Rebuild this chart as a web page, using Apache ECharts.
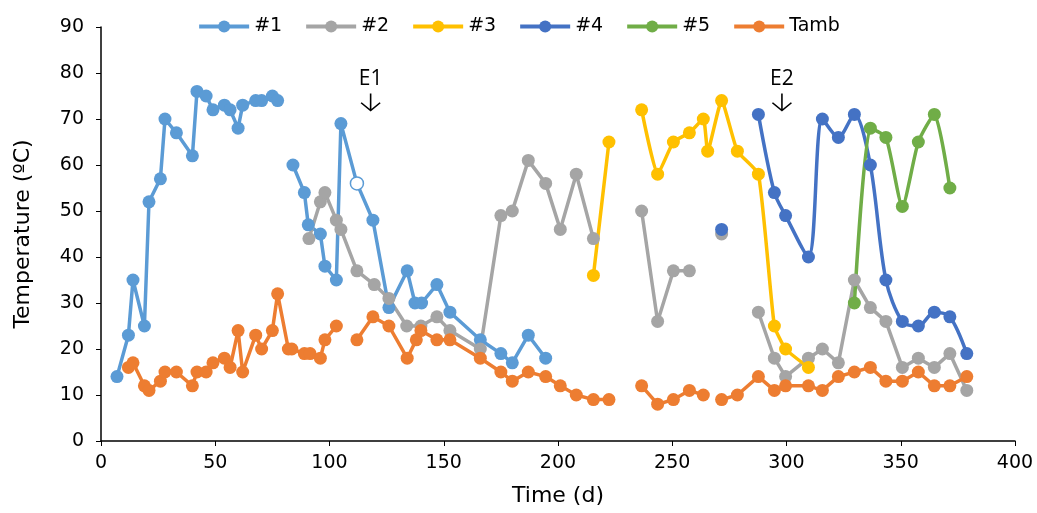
<!DOCTYPE html>
<html>
<head>
<meta charset="utf-8">
<script src="https://cdn.jsdelivr.net/npm/echarts@6/dist/echarts.min.js"></script>
<style>
  html, body { margin: 0; padding: 0; background: #fff; }
  #chart { width: 1037px; height: 513px; }
</style>
</head>
<body>
<div id="chart"></div>
<script>
// time (d) and temperature (ºC); null = break in the line
const s1Time = [7, 12, 14, 19, 21, 26, 28, 33, 40, 42, 46, 49, 54, 56.5, 60, 62, 67.7, 70.3, 75, 77.3, 80,
  84, 89, 90.7, 96, 98, 103, 105, 112, 119, 126, 134, 137.4, 140.3, 147, 152.7, 166, 175, 180, 187, 194.6]
const s1Temp = [14, 23, 35, 25, 52, 57, 70, 67, 62, 76, 75, 72, 73, 72, 68, 73, 74, 74, 75, 74, null,
  60, 54, 47, 45, 38, 35, 69, 56, 48, 29, 37, 30, 30, 34, 28, 22, 19, 17, 23, 18]
const s1Hollow = 112

const s2Time = [91, 96, 98, 103, 105, 112, 119.6, 126, 133.8, 140, 147, 152.7, 166, 175, 180, 187, 194.6, 201, 208, 215.5, 226,
  236.6, 243.6, 250.5, 257.5, 264, 271.6, 280, 287.7, 294.7, 299.6, 309.6, 315.7, 322.7, 329.7, 336.7, 343.5, 350.7, 357.7, 364.7, 371.5, 378.9]
const s2Temp = [44, 52, 54, 48, 46, 37, 34, 31, 25, 25, 27, 24, 20, 49, 50, 61, 56, 46, 58, 44, null,
  50, 26, 37, 37, null, 45, null, 28, 18, 14, 18, 20, 17, 35, 29, 26, 16, 18, 16, 19, 11]

const s3Time = [215.5, 222.3, 230, 236.6, 243.6, 250.5, 257.5, 263.6, 265.5, 271.6, 278.5, 287.7, 294.7, 299.6, 309.6]
const s3Temp = [36, 65, null, 72, 58, 65, 67, 70, 63, 74, 63, 58, 25, 20, 16]

const s4Time = [271.6, 280, 287.7, 294.7, 299.6, 309.6, 315.7, 322.7, 329.7, 336.7, 343.5, 350.7, 357.7, 364.7, 371.5, 378.9]
const s4Temp = [46, null, 71, 54, 49, 40, 70, 66, 71, 60, 35, 26, 25, 28, 27, 19]

const s5Time = [329.7, 336.7, 343.5, 350.7, 357.7, 364.7, 371.5]
const s5Temp = [30, 68, 66, 51, 65, 71, 55]

const tambTime = [12, 14, 19, 21, 26, 28, 33, 40, 42, 46, 49, 54, 56.5, 60, 62, 67.7, 70.3, 75, 77.3, 82, 83.5, 89, 91.5, 96, 98, 103, 108,
  112, 119, 126, 134, 138, 140, 147, 152.7, 166, 175, 180, 187, 194.6, 201, 208, 215.5, 222.3, 230,
  236.6, 243.6, 250.5, 257.5, 263.6, 268, 271.6, 278.5, 287.7, 294.7, 299.6, 309.6, 315.7, 322.7, 329.7, 336.7, 343.5, 350.7, 357.7, 364.7, 371.5, 378.9]
const tambTemp = [16, 17, 12, 11, 13, 15, 15, 12, 15, 15, 17, 18, 16, 24, 15, 23, 20, 24, 32, 20, 20, 19, 19, 18, 22, 25, null,
  22, 27, 25, 18, 22, 24, 22, 22, 18, 15, 13, 15, 14, 12, 10, 9, 9, null,
  12, 8, 9, 11, 10, null, 9, 10, 14, 11, 12, 12, 11, 14, 15, 16, 13, 13, 15, 12, 12, 14]

const seriesNames = ['#1', '#2', '#3', '#4', '#5', 'Tamb']
const seriesColors = ['#5B9BD5', '#A5A5A5', '#FFC000', '#4472C4', '#70AD47', '#ED7D31']
const seriesSmooth = [false, false, 0.15, 0.3, 0.2, false]

// event arrows
const annotTime = [118, 298]
const annotTemp = [73.7, 73.7]
const annotText = ['E1', 'E2']

const pairs = (ts, vs) => ts.map((t, i) => [t, vs[i] == null ? '-' : vs[i]])

const s1Data = pairs(s1Time, s1Temp).map(p => p[0] === s1Hollow
  ? { value: p, itemStyle: { color: '#fff', borderColor: '#5B9BD5', borderWidth: 1.5 } }
  : p)

const allData = [s1Data, pairs(s2Time, s2Temp), pairs(s3Time, s3Temp),
  pairs(s4Time, s4Temp), pairs(s5Time, s5Temp), pairs(tambTime, tambTemp)]

const font = 'DejaVu Sans, sans-serif'

const series = seriesNames.map((name, i) => ({
  name,
  type: 'line',
  data: allData[i],
  smooth: seriesSmooth[i],
  connectNulls: false,
  symbol: 'circle',
  symbolSize: 13,
  showAllSymbol: true,
  color: seriesColors[i],
  lineStyle: { width: 3.5 },
  itemStyle: { color: seriesColors[i] },
  emphasis: { disabled: true },
  animation: false
}))

series.push({
  type: 'scatter',
  silent: true,
  symbol: 'path://M10,0 L10,20 M1,11 L10,20 L19,11',
  symbolSize: [19, 17],
  itemStyle: { color: 'rgba(0,0,0,0)', borderColor: '#000', borderWidth: 1.5, opacity: 1 },
  data: annotTime.map((t, i) => ({ value: [t, annotTemp[i]], name: annotText[i] })),
  label: {
    show: true,
    position: 'top',
    distance: 3,
    formatter: p => p.name,
    fontFamily: 'Open Sans, DejaVu Sans, sans-serif',
    fontSize: 21,
    color: '#000',
    opacity: 1
  },
  emphasis: { disabled: true },
  animation: false
})

const chart = echarts.init(document.getElementById('chart'))
chart.setOption({
  backgroundColor: '#fff',
  textStyle: { fontFamily: font },
  legend: {
    data: seriesNames,
    top: 12,
    left: 'center',
    itemWidth: 50,
    itemHeight: 15,
    itemGap: 22,
    lineStyle: { width: 4 },
    textStyle: { fontSize: 19, color: '#000', fontFamily: font }
  },
  grid: { left: 101, right: 22, top: 27, bottom: 72 },
  xAxis: {
    type: 'value',
    min: 0, max: 400, interval: 50,
    name: 'Time (d)',
    nameLocation: 'middle',
    nameGap: 44,
    nameTextStyle: { fontSize: 22, color: '#000', fontFamily: font },
    axisLine: { lineStyle: { color: '#000', width: 1.5 } },
    axisTick: { show: true, length: 5, lineStyle: { color: '#000' } },
    axisLabel: { fontSize: 19, color: '#000', margin: 13, fontFamily: font },
    splitLine: { show: false }
  },
  yAxis: {
    type: 'value',
    min: 0, max: 90, interval: 10,
    name: 'Temperature (ºC)',
    nameLocation: 'middle',
    nameRotate: 90,
    nameGap: 67,
    nameTextStyle: { fontSize: 22, color: '#000', fontFamily: font },
    axisLine: { show: true, lineStyle: { color: '#000', width: 1.5 } },
    axisTick: { show: true, length: 5, lineStyle: { color: '#000' } },
    axisLabel: { fontSize: 19, color: '#000', margin: 17, fontFamily: font },
    splitLine: { show: false }
  },
  series
})
</script>
</body>
</html>
